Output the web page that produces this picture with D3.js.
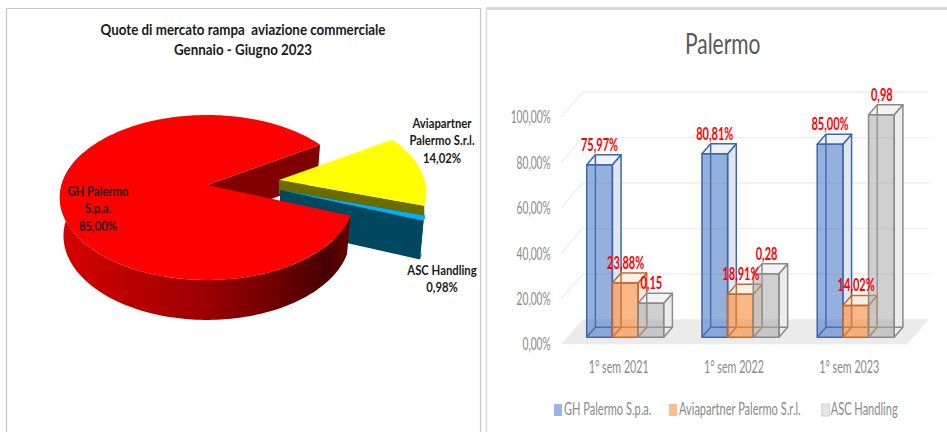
<!DOCTYPE html>
<html><head><meta charset="utf-8">
<script src="https://cdn.jsdelivr.net/npm/d3@7/dist/d3.min.js"></script>
<style>html,body{margin:0;padding:0;background:#fff}svg{display:block}text{font-family:Lato,sans-serif}</style>
</head><body><svg id="c" width="947" height="432"></svg>
<script>
const pieTitle = ["Quote di mercato rampa  aviazione commerciale", "Gennaio - Giugno 2023"];
const pieNames = ["GH Palermo S.p.a.", "Aviapartner Palermo S.r.l.", "ASC Handling"];
const pieValues = [85.00, 14.02, 0.98];
const pieLabels = [["GH Palermo","S.p.a.","85,00%"],["Aviapartner","Palermo S.r.l.","14,02%"],["ASC Handling","0,98%"]];
const barTitle = "Palermo";
const categories = ["1° sem 2021","1° sem 2022","1° sem 2023"];
const seriesNames = ["GH Palermo S.p.a.","Aviapartner Palermo S.r.l.","ASC Handling"];
const ghValues = [75.97, 80.81, 85.00];
const aviaValues = [23.88, 18.91, 14.02];
const ascValues = [15, 28, 98];
const ghLabels = ["75,97%","80,81%","85,00%"];
const aviaLabels = ["23,88%","18,91%","14,02%"];
const ascLabels = ["0,15","0,28","0,98"];
const yTicks = [0,20,40,60,80,100];
const yTickLabels = ["0,00%","20,00%","40,00%","60,00%","80,00%","100,00%"];

const svg = d3.select("#c");
const defs = svg.append("defs");

// squeezed text helper: x-scale about the anchor
function label(g, str, x, y, o){
  const t = g.append("text").attr("transform",`translate(${x},${y}) scale(${o.sx||1},1)`)
    .attr("text-anchor",o.anchor||"middle").attr("font-size",o.size).attr("fill",o.fill)
    .attr("font-weight",o.weight||400).text(str);
  return t;
}

// panel frames
svg.append("path").attr("d","M6.5,432V8.5H480.5V432").attr("fill","none").attr("stroke","#c4c4c4").attr("stroke-width",1.2);
svg.append("path").attr("d","M486.5,432V8").attr("fill","none").attr("stroke","#d9d9d9").attr("stroke-width",1.5);
svg.append("path").attr("d","M486,8.5H947").attr("fill","none").attr("stroke","#d9d9d9").attr("stroke-width",3);

/* ---------- PIE ---------- */
const P = {cx:207, cy:185, rx:145.5, ry:80.6, p:0.1515, depth:38};
function proj(theta, r, off){
  const u = r*Math.cos(theta), v = r*Math.sin(theta), w = 1-P.p*v;
  return [P.cx+off[0]+P.rx*u/w, P.cy+off[1]+P.ry*v/w];
}
function drop(pt, off, k){
  const ox=P.cx+off[0], oy=P.cy+off[1], d=k===undefined?P.depth:k;
  return [ox+(pt[0]-ox)*(d===P.depth?0.975:1), oy+d+(pt[1]-oy)*(d===P.depth?1.02:1)];
}
const startDeg = 21.2;
const arcs = d3.pie().sort(null).startAngle((startDeg+90)*Math.PI/180).endAngle((startDeg+90+360)*Math.PI/180)(pieValues);
const scr = a => a-Math.PI/2;
const offs = [[0,0],[72,-5],[73,5]];
const line = d3.line();
function rim(a0,a1,off){ const n=Math.max(4,Math.ceil(Math.abs(a1-a0)*40));
  return d3.range(n+1).map(i=>proj(scr(a0+(a1-a0)*i/n),1,off)); }
function topPath(a,off){ return line([proj(0,0,off),...rim(a.startAngle,a.endAngle,off)])+"Z"; }
function cutFace(ang,off,k){ const e=proj(scr(ang),1,off), c=proj(0,0,off);
  return line([c,e,drop(e,off,k),drop(c,off,k)])+"Z"; }

const wallGrad = defs.append("linearGradient").attr("id","wall").attr("gradientUnits","userSpaceOnUse")
  .attr("x1",60).attr("x2",350).attr("y1",0).attr("y2",0);
[[0,"#d80000"],[.25,"#b80000"],[.5,"#9c0000"],[.75,"#6c0000"],[.92,"#480000"],[1,"#680000"]]
  .forEach(s=>wallGrad.append("stop").attr("offset",s[0]).attr("stop-color",s[1]));

const pg = svg.append("g");
const [red,yel,blu] = arcs;
// red inner cut face (rear)
pg.append("path").attr("d",cutFace(red.endAngle,offs[0])).attr("fill","#800000");
// yellow: only its upper band shows above the blue slice
pg.append("path").attr("d",cutFace(yel.endAngle,offs[1],14)).attr("fill","#6b6b00");
pg.append("path").attr("d",topPath(yel,offs[1])).attr("fill","#ffff00");
// blue
pg.append("path").attr("d",(()=>{const r=rim(blu.startAngle,blu.endAngle,offs[2]);
  return line([proj(0,0,offs[2]),...r,...r.slice().reverse().map(q=>drop(q,offs[2])),drop(proj(0,0,offs[2]),offs[2])])+"Z";})())
  .attr("fill","#00485f");
pg.append("path").attr("d",cutFace(blu.endAngle,offs[2])).attr("fill","#00485f");
pg.append("path").attr("d",topPath(blu,offs[2])).attr("fill","#00b0f0");
// red outer wall + top
const wallRim = rim(red.startAngle, red.startAngle+Math.PI*1.02, offs[0]);
pg.append("path").attr("d",line([...wallRim,...wallRim.slice().reverse().map(q=>drop(q,offs[0]))])+"Z").attr("fill","url(#wall)");
pg.append("path").attr("d",topPath(red,offs[0])).attr("fill","#ff0000");

const tg = svg.append("g");
const pieOpt = {size:13,fill:"#1a1a1a",weight:700,sx:.87};
pieTitle.forEach((s,i)=>label(tg,s,243,[35,55][i],{size:15,fill:"#1a1a1a",weight:700,sx:.89}).style("white-space","pre"));
pieLabels[0].forEach((s,i)=>label(tg,s,98,[196,213,231][i],pieOpt));
pieLabels[1].forEach((s,i)=>label(tg,s,442,[128,145,163][i],pieOpt));
pieLabels[2].forEach((s,i)=>label(tg,s,442,[275,292][i],pieOpt));

/* ---------- 3D BARS ---------- */
const y = d3.scaleLinear().domain([0,100]).range([337.3,110.3]);
const x0 = d3.scaleBand().domain(categories).range([586.7,894.2]).paddingInner(.332).paddingOuter(0);
const x1 = d3.scaleBand().domain(seriesNames).range([0,x0.bandwidth()]);
const D = {dx:8.7, dy:-10};                 // bar depth
const W = {fx:561, bx:582.7, right:929, front:7, back:-18}; // floor & wall offsets

const bg = svg.append("g");
// floor
bg.append("path").attr("d",line([[W.fx,y(0)+W.front],[W.right-21.7,y(0)+W.front],[W.right,y(0)+W.back],[W.bx,y(0)+W.back]])+"Z").attr("fill","#ebebeb");
// gridlines
yTicks.filter(t=>t>0).forEach(t=>{
  bg.append("path").attr("d",line([[W.fx,y(t)+W.front],[W.bx,y(t)+W.back],[W.right,y(t)+W.back]])).attr("fill","none").attr("stroke","#eeeeee").attr("stroke-width",1.5);
});
// axis labels
const axOpt={size:17,fill:"#8a8a8a",anchor:"end",sx:.6};
yTicks.forEach((t,i)=>label(bg,yTickLabels[i],550.7,y(t)+W.front+6,axOpt));
const catOpt={size:17,fill:"#8a8a8a",sx:.63};
categories.forEach(c=>label(bg,c,x0(c)+x0.bandwidth()/2-6.5,372.5,catOpt));

const styles = [
  {front:"rgba(68,114,196,.56)",side:"#e0e6f0",top:"#eef1f7",stroke:"#3e66ae"},
  {front:"rgba(245,140,60,.62)",side:"#f6e7dc",top:"#f8f0e9",stroke:"#c4682c"},
  {front:"rgba(165,165,165,.52)",side:"#ececec",top:"#f3f3f3",stroke:"#8a8a8a"}
];
const seriesValues=[ghValues,aviaValues,ascValues], seriesLabels=[ghLabels,aviaLabels,ascLabels];
categories.forEach((c,ci)=>{
  seriesNames.forEach((s,si)=>{
    const v=seriesValues[si][ci], st=styles[si];
    const xl=x0(c)+x1(s), xr=xl+x1.bandwidth(), yt=y(v), yb=y(0);
    const g=bg.append("g").attr("stroke",st.stroke).attr("stroke-width",1.5).attr("stroke-linejoin","round");
    g.append("path").attr("d",line([[xr,yb],[xr+D.dx,yb+D.dy],[xr+D.dx,yt+D.dy],[xr,yt]])+"Z").attr("fill",st.side);
    g.append("path").attr("d",line([[xl,yt],[xr,yt],[xr+D.dx,yt+D.dy],[xl+D.dx,yt+D.dy]])+"Z").attr("fill",st.top);
    g.append("path").attr("d",line([[xl+D.dx,yt+D.dy],[xl+D.dx,yb+D.dy],[xr+D.dx,yb+D.dy]])).attr("fill","none");
    g.append("path").attr("d",line([[xl,yb],[xl+D.dx,yb+D.dy]])).attr("fill","none");
    g.append("rect").attr("x",xl).attr("y",yt).attr("width",xr-xl).attr("height",yb-yt).attr("fill",st.front);
  });
});
// data labels
categories.forEach((c,ci)=>{
  seriesNames.forEach((s,si)=>{
    const xl=x0(c)+x1(s);
    label(bg,seriesLabels[si][ci],xl+x1.bandwidth()/2+(si?0.5:0),y(seriesValues[si][ci])-14,{size:17,fill:"#ff0000",weight:700,sx:.65});
  });
});
// title
label(bg,barTitle,722.7,54,{size:28,fill:"#595959",sx:.75});
// legend
const legX=[554,669,821.7], legText=[564,679,830.7];
const legFill=["#9ab6e6","#f9bd8e","#e6e6e6"];
seriesNames.forEach((s,i)=>{
  bg.append("rect").attr("x",legX[i]).attr("y",404).attr("width",8).attr("height",12).attr("fill",legFill[i]).attr("stroke",i==2?"#d0d0d0":"none");
  label(bg,s,legText[i],415,{size:17,fill:"#8a8a8a",anchor:"start",sx:.65});
});
</script></body></html>
